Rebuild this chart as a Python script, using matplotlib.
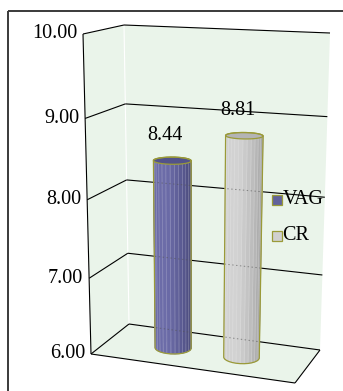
import numpy as np
import matplotlib
matplotlib.use("Agg")
import matplotlib.pyplot as plt
from matplotlib.patches import Polygon, Rectangle

# ---- data ----
series = ["VAG", "CR"]
values = [8.44, 8.81]
value_labels = ["8.44", "8.81"]
y_ticks = [6.0, 7.0, 8.0, 9.0, 10.0]
y_tick_labels = ["6.00", "7.00", "8.00", "9.00", "10.00"]
y_min, y_max = 6.0, 10.0

# ---- style ----
side_light = {"VAG": "#6c6ca8", "CR": "#d2d2d2"}
side_dark = {"VAG": "#48487a", "CR": "#a4a4a4"}
top_color = {"VAG": "#52528a", "CR": "#b4b4b4"}
legend_color = {"VAG": "#62629c", "CR": "#d0d0d0"}
edge_olive = "#9a9a38"
wall_green = "#eaf4ea"
FONT = "Liberation Serif"

W, H = 343, 391
fig = plt.figure(figsize=(W / 100, H / 100), dpi=100)
ax = fig.add_axes([0, 0, 1, 1])
ax.set_xlim(0, W)
ax.set_ylim(H, 0)
ax.axis("off")

# corners of the 3-D plot box on the canvas, keyed by (u, s, w):
# u = left/right, s = bottom/top of value axis, w = front/back
BOX = {
    (0, 0, 0): (91, 354), (0, 1, 0): (83, 34),
    (0, 0, 1): (129, 324), (0, 1, 1): (124, 25),
    (1, 0, 0): (295, 383), (1, 1, 0): (304, 42),
    (1, 0, 1): (320, 350), (1, 1, 1): (330, 33),
}
PERSP = -0.07


def project(u, v, w):
    u = np.asarray(u, float)
    w = np.asarray(w, float)
    t = (np.asarray(v, float) - y_min) / (y_max - y_min)
    s = t * (1 + PERSP) / (1 + PERSP * t)
    x = np.zeros(np.broadcast(u, s, w).shape)
    y = np.zeros_like(x)
    for (a, b, c), (px, py) in BOX.items():
        wt = (u if a else 1 - u) * (s if b else 1 - s) * (w if c else 1 - w)
        x = x + wt * px
        y = y + wt * py
    return x, y


def pt(u, v, w):
    x, y = project(u, v, w)
    return float(x), float(y)


# ---- frame ----
ax.add_patch(Rectangle((8, 11), 400, 400, fill=False, ec="#3a3a3a", lw=1.4, zorder=0))

# ---- walls and floor ----
back = [pt(0, y_min, 1), pt(0, y_max, 1), pt(1, y_max, 1), pt(1, y_min, 1)]
left = [pt(0, y_min, 0), pt(0, y_max, 0), pt(0, y_max, 1), pt(0, y_min, 1)]
floor = [pt(0, y_min, 0), pt(0, y_min, 1), pt(1, y_min, 1), pt(1, y_min, 0)]
for poly in (back, left, floor):
    ax.add_patch(Polygon(poly, closed=True, fc=wall_green, ec="none", zorder=1))
ax.plot(*zip(pt(0, y_min, 1), pt(0, y_max, 1)), color="white", lw=0.8, zorder=1.5)

grid_kw = dict(color="black", lw=0.8, zorder=2, solid_capstyle="butt")
for v in y_ticks:
    ax.plot(*zip(pt(0, v, 0), pt(0, v, 1)), **grid_kw)
    ax.plot(*zip(pt(0, v, 1), pt(1, v, 1)), **grid_kw)
ax.plot(*zip(pt(0, y_min, 0), pt(0, y_max, 0)), **grid_kw)
ax.plot(*zip(pt(0, y_min, 0), pt(1, y_min, 0)), **grid_kw)
ax.plot(*zip(pt(1, y_min, 0), pt(1, y_min, 1)), **grid_kw)

for v, lab in zip(y_ticks, y_tick_labels):
    x, y = pt(0, v, 0)
    ax.text(x - 6, y, lab, ha="right", va="center", fontsize=14.5,
            family=FONT, color="black", zorder=5)


# ---- cylinders ----
def hull(points):
    p = sorted(map(tuple, points))
    def cross(o, a, b):
        return (a[0] - o[0]) * (b[1] - o[1]) - (a[1] - o[1]) * (b[0] - o[0])
    lower, upper = [], []
    for q in p:
        while len(lower) >= 2 and cross(lower[-2], lower[-1], q) <= 0:
            lower.pop()
        lower.append(q)
    for q in reversed(p):
        while len(upper) >= 2 and cross(upper[-2], upper[-1], q) <= 0:
            upper.pop()
        upper.append(q)
    return lower[:-1] + upper[:-1]


def mix(c1, c2, f):
    a = np.array(matplotlib.colors.to_rgb(c1))
    b = np.array(matplotlib.colors.to_rgb(c2))
    return tuple(a + (b - a) * f)


n_fac = 28
ru, rw, wc = 0.086, 0.185, 0.5
centers = [0.32, 0.666]
theta = np.linspace(0, 2 * np.pi, n_fac + 1)

for name, val, lab, uc in zip(series, values, value_labels, centers):
    uu = uc + ru * np.cos(theta)
    ww = wc + rw * np.sin(theta)
    bx, by = project(uu, np.full_like(uu, y_min), ww)
    tx, ty = project(uu, np.full_like(uu, val), ww)
    mids = 0.5 * (theta[:-1] + theta[1:])
    order = np.argsort(-np.sin(mids))  # back facets first
    for i in order:
        phi = mids[i]
        f = np.clip((np.cos(phi - 1.3 * np.pi) + 0.6) / 1.4, 0, 1)
        col = mix(side_dark[name], side_light[name], f)
        edge = mix(col, "white", 0.22)
        quad = [(bx[i], by[i]), (bx[i + 1], by[i + 1]),
                (tx[i + 1], ty[i + 1]), (tx[i], ty[i])]
        ax.add_patch(Polygon(quad, closed=True, fc=col, ec=edge, lw=0.5, zorder=3))
    top = list(zip(tx[:-1], ty[:-1]))
    ax.add_patch(Polygon(top, closed=True, fc=top_color[name], ec=edge_olive,
                         lw=0.9, zorder=3.3))
    outline = hull(list(zip(bx, by)) + list(zip(tx, ty)))
    ax.add_patch(Polygon(outline, closed=True, fill=False, ec=edge_olive,
                         lw=0.9, zorder=3.4))
    clip = Polygon(outline, closed=True, transform=ax.transData)
    for v in y_ticks:
        if v < val:
            ln, = ax.plot(*zip(pt(0, v, 1), pt(1, v, 1)), color="#555555",
                          lw=0.7, ls=(0, (1.5, 2.5)), alpha=0.6, zorder=3.2)
            ln.set_clip_path(clip)
    cx, cy = pt(uc, val, wc)
    ax.annotate(lab, (cx, cy), xytext=(-7, 25), textcoords="offset pixels",
                ha="center", va="center", fontsize=14.5, family=FONT, zorder=5)

# ---- legend ----
for k, name in enumerate(series):
    y0 = 200 + 36 * k
    ax.add_patch(Rectangle((271.5, y0 - 5), 10, 10, fc=legend_color[name],
                           ec=edge_olive, lw=0.9, zorder=5))
    ax.text(282.5, y0, name, ha="left", va="center", fontsize=14.5,
            family=FONT, zorder=5)

fig.savefig("out.png", dpi=100)
